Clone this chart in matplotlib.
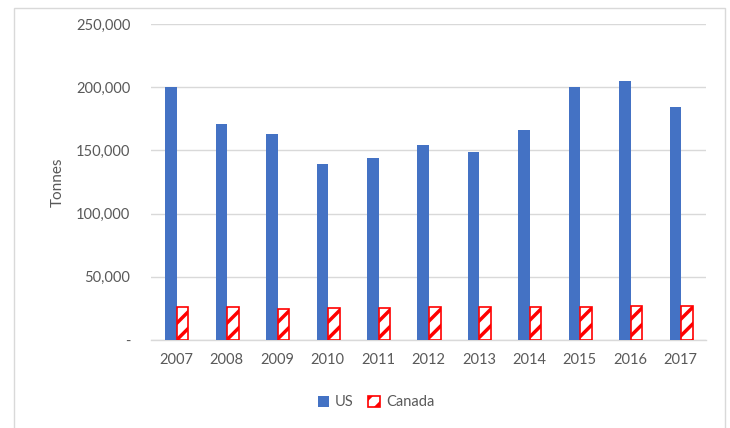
import numpy as np
import matplotlib

matplotlib.use("Agg")
import matplotlib.pyplot as plt  # noqa: E402
from matplotlib.patches import Rectangle  # noqa: E402
from matplotlib.ticker import FuncFormatter  # noqa: E402

# Data
years = ["2007", "2008", "2009", "2010", "2011", "2012",
         "2013", "2014", "2015", "2016", "2017"]
us_tonnes = [200000, 171000, 163000, 139500, 144000, 154500,
             148500, 166500, 200500, 205000, 184000]
canada_tonnes = [26500, 26500, 24200, 25300, 25300, 26200,
                 26000, 26000, 25800, 26800, 26800]

plt.rcParams["font.family"] = ["Lato", "DejaVu Sans"]
plt.rcParams["hatch.color"] = "#FF0000"
plt.rcParams["hatch.linewidth"] = 2.5

fig = plt.figure(figsize=(7.3, 4.28), dpi=100)
ax = fig.add_axes([0.207, 0.2056, 0.76, 0.7384])

# light grey chart-area frame, bottom runs off the image
fig.patches.append(Rectangle((14 / 730, -0.05), 711 / 730, 1.04 - 4 / 428,
                             transform=fig.transFigure, fill=False,
                             edgecolor="#D9D9D9", linewidth=1.0))

x = np.arange(len(years))
w = 0.23
ax.bar(x - w / 2 + 0.01, us_tonnes, width=w, color="#4472C4", label="US", zorder=3)
ax.bar(x + w / 2 + 0.01, canada_tonnes, width=w, facecolor="white",
       edgecolor="#FF0000", linewidth=1.2, hatch="//", label="Canada", zorder=3)

ax.set_xlim(-0.5, len(years) - 0.5)
ax.set_ylim(0, 250000)
ax.set_yticks(np.arange(0, 250001, 50000))
ax.yaxis.set_major_formatter(FuncFormatter(lambda v, p: "-" if v == 0 else f"{int(v):,}"))
ax.set_xticks(x)
ax.set_xticklabels(years)

ax.grid(axis="y", color="#D9D9D9", linewidth=1.0, zorder=0)
for s in ["top", "right", "left"]:
    ax.spines[s].set_visible(False)
ax.spines["bottom"].set_color("#D9D9D9")
ax.spines["bottom"].set_linewidth(1.0)
ax.tick_params(axis="both", length=0, labelsize=10.5, colors="#595959")
ax.tick_params(axis="y", pad=15)
ax.tick_params(axis="x", pad=9)

ax.set_ylabel("Tonnes", fontsize=11, color="#595959", labelpad=8)

fig.legend(loc="center", bbox_to_anchor=(0.515, 0.06), ncol=2, frameon=False,
           fontsize=10.5, labelcolor="#595959", handlelength=0.8, handleheight=0.8,
           handletextpad=0.4, columnspacing=1.0)

fig.savefig("out.png", dpi=100)
